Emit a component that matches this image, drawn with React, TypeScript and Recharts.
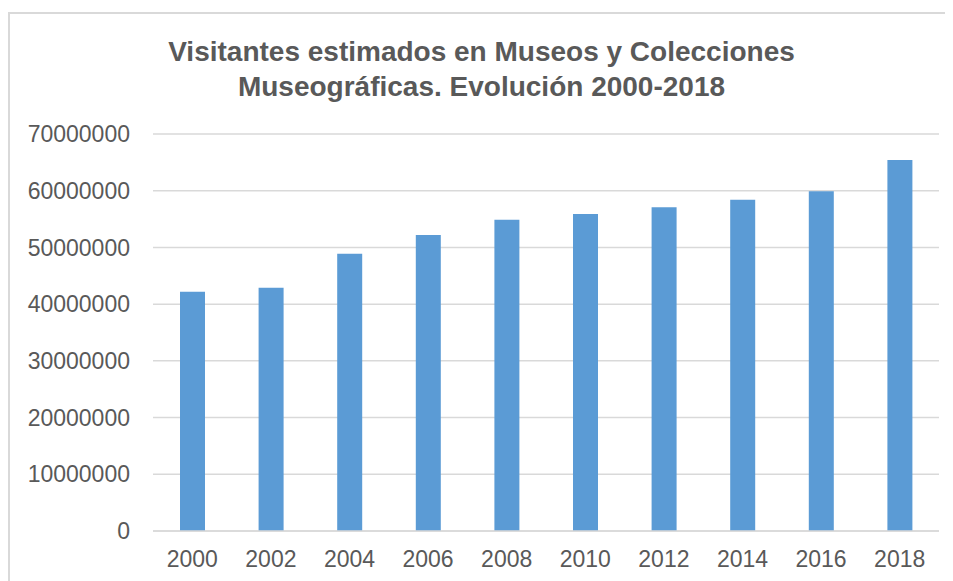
import React from "react";
import { BarChart, Bar, XAxis, YAxis, CartesianGrid } from "recharts";

const years = ["2000", "2002", "2004", "2006", "2008", "2010", "2012", "2014", "2016", "2018"];
const visitors = [42200000, 42900000, 48900000, 52200000, 54900000, 55900000, 57100000, 58400000, 59900000, 65400000];
const yTicks = [0, 10000000, 20000000, 30000000, 40000000, 50000000, 60000000, 70000000];

const titleLines = ["Visitantes estimados en Museos y Colecciones", "Museográficas. Evolución 2000-2018"];

const FONT = "'Liberation Sans', Arial, sans-serif";
const GREY = "#595959";

const data = years.map((y, i) => ({ year: y, value: visitors[i] }));

const App = () => {
  return (
    <div
      style={{
        position: "relative",
        width: 943,
        height: 567,
        marginTop: 4,
        borderTop: "2px solid #d9d9d9",
        borderLeft: "2px solid #d9d9d9",
        fontFamily: FONT,
      }}
    >
      <div
        style={{
          position: "absolute",
          top: 20,
          left: 0,
          width: 943,
          textAlign: "center",
          fontSize: 28,
          lineHeight: "35px",
          fontWeight: "bold",
          color: GREY,
        }}
      >
        {titleLines.map((t) => (
          <div key={t}>{t}</div>
        ))}
      </div>
      <BarChart
        width={943}
        height={567}
        data={data}
        margin={{ top: 120, right: 14, left: 0, bottom: 0 }}
      >
        <CartesianGrid vertical={false} stroke="#d9d9d9" strokeWidth={1.5} />
        <XAxis
          dataKey="year"
          height={50}
          axisLine={{ stroke: "#d9d9d9", strokeWidth: 1.5 }}
          tickLine={false}
          tickMargin={14}
          tick={{ fill: GREY, fontSize: 23, fontFamily: FONT }}
        />
        <YAxis
          width={143}
          domain={[0, 70000000]}
          ticks={yTicks}
          axisLine={false}
          tickLine={false}
          tickMargin={17}
          tick={{ fill: GREY, fontSize: 23, fontFamily: FONT }}
        />
        <Bar dataKey="value" fill="#5b9bd5" barSize={25} isAnimationActive={false} />
      </BarChart>
    </div>
  );
};

export default App;
